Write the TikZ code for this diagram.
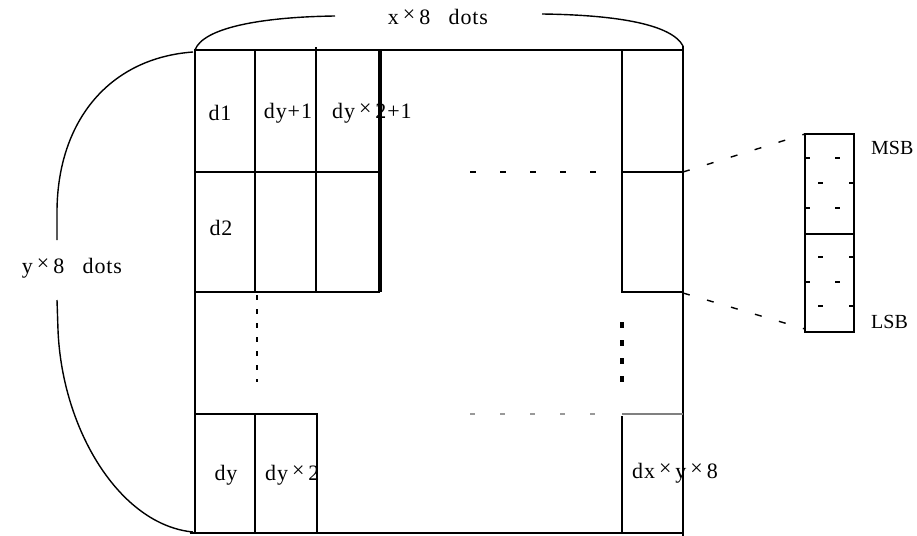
\documentclass[tikz,border=0pt]{standalone}
\usepackage{fontspec}
\newfontfamily\labfont[LetterSpace=4]{Liberation Serif}
\newfontfamily\sidefont{Liberation Serif}
\newcommand\tms{\hspace{4pt}\raisebox{3pt}{×}\hspace{4pt}}
\begin{document}
\begin{tikzpicture}[x=1pt,y=-1pt,
  thickl/.style={line width=2.8pt, line cap=rect},
  thinl/.style={line width=1.1pt},
  bracel/.style={line width=1.4pt},
  lbl/.style={font=\labfont\fontsize{22}{24}\selectfont, inner sep=0pt},
  sidelbl/.style={font=\sidefont\fontsize{20}{22}\selectfont, inner sep=0pt},
  tick/.style={line width=1.4pt}]
\useasboundingbox (0,0) rectangle (917,535);
% outer frame
\draw[thickl] (195,50) -- (683,50);
\draw[thickl] (195,50) -- (195,533);
\draw[thickl] (683,47) -- (683,535);
\draw[line width=1.8pt] (190,533) -- (683,533);
% upper block
\draw[thickl] (255,50) -- (255,292);
\draw[thickl] (316,48) -- (316,292);
\draw[line width=3.3pt] (380,50) -- (380,292);
\draw[thinl] (195,172) -- (380,172);
\draw[line width=1.4pt] (195,292) -- (380,292);
% right column
\draw[thickl] (622,50) -- (622,292);
\draw[thinl] (622,172) -- (683,172);
\draw[line width=1.4pt] (622,292) -- (683,292);
% bottom block
\draw[thickl] (195,414) -- (317,414);
\draw[thickl] (255,414) -- (255,533);
\draw[thickl] (317,414) -- (317,533);
\draw[thickl] (622,417) -- (622,533);
\draw[line width=2.8pt, gray] (622,414) -- (683,414);
% dotted continuation marks
\draw[line width=1.5pt, dash pattern=on 6pt off 24pt] (470,172) -- (600,172);
\draw[line width=2.8pt, gray!80, dash pattern=on 5pt off 25pt] (470,414) -- (600,414);
\draw[line width=1.3pt, dash pattern=on 5pt off 9pt] (257,295) -- (257,382);
\draw[line width=3.2pt, dash pattern=on 6pt off 12pt] (622,322) -- (622,384);
% byte box
\draw[thinl] (805,134) rectangle (854,332);
\draw[thinl] (805,234) -- (854,234);
\foreach \x/\y in {805/158, 835/158, 818/183, 849/183, 805/208, 835/208,
                   818/257, 849/257, 805/282, 835/282, 818/306, 849/306}
  \draw[tick] (\x,\y) -- ++(5,0);
% dashed connectors
\coordinate (u1) at (683,172); \coordinate (u2) at (805,134);
\coordinate (l1) at (683,293); \coordinate (l2) at (805,329);
\draw[line width=1.4pt, dash pattern=on 7pt off 18pt] (u1) -- (u2);
\draw[line width=1.4pt, dash pattern=on 7pt off 18pt] (l1) -- (l2);
% braces
\draw[bracel] (195,50) .. controls (203,28) and (260,17) .. (335,16);
\draw[bracel] (542,14) .. controls (620,15) and (672,25) .. (683,46);
\draw[bracel] (193,52) .. controls (110,58) and (58,120) .. (57,210) -- (57,240);
\draw[bracel] (57,300) -- (58,330) .. controls (62,430) and (120,525) .. (193,532);
% labels
\node[lbl] (xdots) at (438,17) {x\tms 8\hspace{12pt} dots};
\node[lbl] (ydots) at (72,268) {y\tms 8\hspace{12pt} dots};
\node[lbl] (d1) at (220,113) {d1};
\node[lbl] (dy1) at (288,113) {dy+1};
\node[lbl, anchor=west] (dy21) at (332,113) {dy\tms 2+1};
\node[lbl] (d2) at (221,228) {d2};
\node[lbl] (dy) at (226,475) {dy};
\node[lbl, anchor=west] (dy2) at (265,475) {dy\tms 2};
\node[lbl, anchor=west] (dxy8) at (632,473) {dx\tms y\tms 8};
\node[sidelbl, anchor=west] (msb) at (871,148) {MSB};
\node[sidelbl, anchor=west] (lsb) at (871,322) {LSB};
\end{tikzpicture}
\end{document}
